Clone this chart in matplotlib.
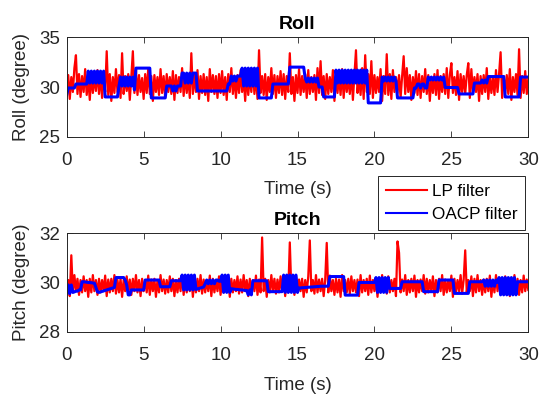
import numpy as np
import matplotlib
matplotlib.use("Agg")
import matplotlib.pyplot as plt

plt.rcParams['font.family'] = ['Liberation Sans', 'DejaVu Sans']

dt = 0.1
x_ticks = [0, 5, 10, 15, 20, 25, 30]
roll_yticks = [25, 30, 35]
pitch_yticks = [28, 30, 32]

roll_lp = [
    29.4, 31.2, 28.8, 31.0, 29.5, 31.9, 33.2, 29.3, 31.3, 29.0,
    31.1, 29.5, 31.8, 29.2, 30.9, 28.7, 31.3, 29.4, 31.0, 29.6,
    31.7, 29.3, 31.2, 28.9, 31.1, 29.5, 33.6, 29.2, 31.3, 28.6,
    31.0, 29.4, 31.8, 29.5, 31.2, 28.9, 33.4, 29.3, 31.1, 29.6,
    31.3, 28.7, 31.0, 33.6, 29.4, 31.7, 29.2, 31.2, 29.5, 30.9,
    28.8, 31.3, 29.4, 31.9, 29.3, 31.1, 28.6, 31.2, 29.5, 31.0,
    29.2, 31.8, 29.4, 31.1, 28.9, 31.3, 29.5, 31.0, 29.3, 31.6,
    28.7, 31.2, 29.4, 31.0, 29.5, 31.9, 29.1, 31.3, 29.4, 31.1,
    28.9, 33.4, 29.3, 31.2, 29.5, 31.7, 28.8, 31.1, 29.4, 31.3,
    29.2, 31.0, 28.6, 31.8, 29.5, 31.2, 29.3, 31.1, 28.9, 31.3,
    29.4, 31.6, 29.2, 31.0, 28.7, 31.3, 29.5, 31.9, 29.3, 31.1,
    28.9, 31.2, 29.4, 31.7, 29.5, 31.0, 28.6, 31.3, 29.2, 31.1,
    29.5, 31.8, 29.3, 31.2, 28.8, 33.7, 29.4, 31.1, 29.2, 31.3,
    28.7, 31.0, 29.5, 31.9, 29.3, 31.2, 28.9, 31.1, 29.4, 31.6,
    29.2, 31.3, 28.8, 31.1, 29.5, 33.4, 29.3, 31.0, 28.6, 31.2,
    29.4, 31.8, 29.2, 31.1, 29.5, 31.3, 28.9, 31.7, 29.3, 31.0,
    29.5, 31.2, 28.7, 31.9, 29.4, 32.6, 29.2, 31.1, 28.8, 31.3,
    29.3, 31.0, 29.5, 31.7, 28.6, 31.2, 29.4, 31.1, 29.2, 31.8,
    28.9, 31.3, 29.5, 31.0, 29.3, 31.6, 28.7, 31.2, 33.7, 29.4,
    31.1, 29.2, 31.9, 28.8, 33.2, 29.5, 31.3, 29.3, 32.6, 28.9,
    31.2, 29.4, 31.0, 29.5, 31.8, 28.6, 31.1, 29.3, 33.3, 29.2,
    31.3, 28.8, 31.7, 29.5, 31.0, 29.4, 31.2, 28.9, 31.1, 33.1,
    29.3, 31.9, 29.5, 31.2, 28.7, 31.0, 29.4, 31.6, 29.2, 31.3,
    28.9, 31.1, 29.5, 31.8, 29.3, 31.2, 28.6, 31.0, 29.4, 31.3,
    29.2, 31.7, 28.8, 31.1, 29.5, 31.3, 29.3, 31.9, 28.9, 31.2,
    32.4, 29.4, 31.0, 29.2, 31.6, 28.7, 31.3, 29.5, 31.1, 29.3,
    31.2, 32.4, 28.9, 31.8, 29.4, 31.0, 29.5, 31.3, 28.6, 31.1,
    29.3, 31.2, 29.5, 31.9, 28.8, 31.1, 29.4, 31.0, 29.2, 31.7,
    29.5, 31.3, 33.5, 28.9, 31.1, 29.4, 31.2, 29.3, 31.8, 28.7,
    31.0, 29.5, 31.3, 29.2, 33.8, 28.9, 31.1, 29.4, 31.6, 29.3,
    30.8,
]

roll_oacp = [
    29.2, 29.9, 29.9, 29.9, 29.9, 29.9, 30.3, 30.3, 30.3, 30.3,
    30.3, 30.3, 30.3, 30.3, 31.6, 30.4, 31.6, 30.4, 31.6, 30.4,
    31.6, 30.4, 31.6, 30.4, 31.6, 29.0, 29.0, 29.0, 29.0, 29.0,
    29.0, 29.0, 29.0, 29.0, 30.1, 31.0, 30.1, 31.0, 30.1, 31.0,
    30.1, 31.0, 30.1, 31.0, 29.7, 31.9, 31.9, 31.9, 31.9, 31.9,
    31.9, 31.9, 31.9, 31.9, 31.9, 28.9, 28.9, 28.9, 28.9, 28.9,
    28.9, 28.9, 28.9, 28.9, 28.9, 30.1, 30.1, 30.1, 30.1, 29.6,
    30.1, 29.6, 30.1, 30.1, 30.1, 31.4, 31.4, 30.4, 31.4, 30.4,
    31.4, 30.4, 31.4, 31.4, 31.4, 29.6, 29.6, 29.6, 29.6, 29.6,
    29.6, 29.6, 29.6, 29.6, 29.6, 29.6, 29.6, 29.6, 29.6, 29.6,
    29.6, 29.6, 29.6, 29.6, 29.6, 30.3, 30.3, 31.1, 30.6, 31.1,
    30.6, 31.1, 31.1, 31.1, 31.9, 30.1, 31.9, 30.1, 31.9, 30.1,
    31.9, 30.1, 31.9, 30.1, 31.9, 28.9, 28.9, 28.9, 28.9, 28.9,
    28.9, 28.9, 28.9, 28.9, 30.3, 30.3, 30.3, 30.3, 30.3, 30.3,
    30.3, 30.3, 30.3, 30.3, 30.3, 32.0, 32.0, 32.0, 32.0, 32.0,
    32.0, 32.0, 32.0, 32.0, 32.0, 30.9, 30.5, 30.9, 30.5, 30.9,
    30.5, 30.9, 30.5, 30.9, 30.0, 30.0, 30.0, 29.0, 29.0, 29.0,
    29.0, 29.0, 29.0, 29.0, 29.0, 31.7, 30.4, 31.7, 30.4, 31.7,
    30.4, 31.7, 30.4, 31.7, 30.4, 31.7, 30.4, 31.7, 30.4, 31.7,
    30.4, 31.7, 30.4, 31.7, 30.4, 31.7, 28.4, 28.4, 28.4, 28.4,
    28.4, 28.4, 28.4, 28.4, 28.4, 31.0, 30.6, 31.0, 30.6, 31.0,
    30.6, 31.0, 30.6, 31.0, 30.6, 28.9, 28.9, 28.9, 28.9, 28.9,
    28.9, 28.9, 28.9, 28.9, 28.9, 28.9, 29.9, 29.9, 30.3, 30.3,
    29.9, 30.3, 30.3, 29.9, 29.9, 31.0, 30.7, 31.0, 30.7, 31.0,
    30.7, 31.0, 30.7, 31.0, 30.7, 31.0, 29.95, 29.95, 29.95, 29.95,
    29.95, 29.95, 29.95, 29.95, 29.95, 29.3, 29.3, 29.3, 29.3, 29.3,
    29.3, 29.3, 29.3, 29.3, 29.3, 30.4, 30.4, 30.4, 30.4, 30.4,
    30.7, 30.4, 30.7, 30.4, 31.05, 31.05, 31.05, 31.05, 31.05, 31.05,
    31.05, 31.05, 31.05, 31.05, 31.05, 29.0, 29.0, 29.0, 29.0, 29.0,
    29.0, 29.0, 29.0, 29.0, 29.0, 31.0, 31.0, 31.0, 31.0, 31.0,
    31.0,
]

pitch_lp = [
    29.65, 30.1, 29.45, 31.1, 29.6, 30.3, 29.65, 30.15, 29.5, 30.1,
    29.6, 30.25, 29.65, 30.1, 29.42, 30.15, 29.6, 30.3, 29.65, 30.1,
    29.5, 30.15, 29.6, 30.1, 29.65, 30.28, 29.45, 30.12, 29.6, 30.15,
    29.65, 30.3, 29.55, 30.1, 29.6, 30.15, 29.42, 30.1, 29.65, 30.25,
    29.6, 30.12, 29.5, 30.15, 29.65, 30.3, 29.6, 30.1, 29.45, 30.15,
    29.65, 30.1, 29.6, 30.28, 29.5, 30.12, 29.65, 30.15, 29.42, 30.1,
    29.6, 30.3, 29.65, 30.12, 29.55, 30.1, 29.6, 30.25, 29.65, 30.15,
    29.45, 30.1, 29.6, 30.15, 29.65, 30.3, 29.5, 30.12, 29.6, 30.1,
    29.65, 30.25, 29.42, 30.1, 29.6, 30.15, 29.65, 30.3, 29.55, 30.12,
    29.6, 30.1, 29.65, 30.28, 29.45, 30.15, 29.6, 30.1, 29.65, 30.25,
    29.5, 30.12, 29.6, 30.3, 29.65, 30.1, 29.42, 30.15, 29.6, 30.1,
    29.65, 30.25, 29.55, 30.12, 29.6, 30.3, 29.65, 30.1, 29.45, 30.15,
    29.6, 30.1, 29.65, 30.28, 29.5, 30.12, 29.6, 31.82, 29.65, 30.15,
    29.42, 30.1, 29.6, 30.3, 29.65, 30.15, 29.55, 30.12, 29.6, 30.25,
    29.65, 30.1, 29.45, 30.15, 29.6, 31.62, 29.65, 30.1, 29.5, 30.3,
    29.6, 30.12, 29.65, 30.15, 29.42, 30.1, 29.6, 30.25, 31.7, 29.65,
    30.1, 29.55, 30.3, 29.6, 30.12, 29.65, 30.15, 29.45, 30.1, 31.6,
    29.6, 30.28, 29.65, 30.1, 29.5, 30.15, 29.6, 30.12, 29.42, 30.3,
    29.65, 30.1, 29.6, 30.15, 29.55, 30.25, 29.65, 30.1, 29.6, 30.12,
    29.45, 30.3, 29.6, 30.1, 29.65, 30.15, 29.5, 30.28, 29.6, 30.1,
    29.65, 30.12, 29.42, 30.15, 29.6, 30.3, 29.65, 30.1, 29.55, 30.25,
    29.6, 30.1, 29.65, 30.15, 29.45, 31.66, 31.2, 29.6, 30.12, 29.65,
    30.3, 29.5, 30.1, 29.6, 30.15, 29.65, 30.28, 29.42, 30.1, 29.6,
    30.12, 29.65, 30.3, 29.55, 30.15, 29.6, 30.1, 29.65, 30.25, 29.45,
    30.1, 29.6, 30.15, 29.65, 30.3, 29.5, 30.12, 29.6, 30.1, 29.65,
    30.28, 29.42, 30.15, 29.6, 30.1, 29.65, 30.3, 29.55, 30.12, 31.3,
    29.6, 30.1, 29.65, 30.25, 29.45, 30.15, 29.6, 30.3, 29.65, 30.1,
    29.5, 30.12, 29.6, 30.15, 29.65, 30.28, 29.42, 30.1, 29.6, 30.3,
    29.65, 30.15, 29.55, 30.1, 29.6, 30.25, 29.65, 30.12, 29.45, 30.1,
    29.6, 30.3, 29.65, 30.15, 29.5, 30.1, 29.6, 30.28, 29.65, 30.12,
    29.7,
]

pitch_oacp = [
    29.55, 29.9, 29.55, 29.9, 29.6, 29.62, 29.65, 29.65, 29.7, 29.7,
    30.03, 30.03, 30.02, 30.01, 30.0, 30.0, 29.99, 29.98, 29.97, 29.8,
    29.62, 29.6, 29.62, 29.64, 29.66, 29.68, 29.7, 29.72, 29.74, 29.76,
    29.78, 29.8, 30.2, 30.2, 30.2, 30.2, 30.2, 30.2, 30.1, 29.9,
    29.5, 29.5, 29.7, 29.7, 29.7, 29.7, 29.7, 29.7, 29.7, 29.7,
    29.7, 30.1, 30.1, 30.1, 30.1, 30.1, 30.1, 30.1, 30.1, 30.1,
    30.1, 29.83, 29.83, 29.83, 29.83, 29.83, 29.83, 29.83, 30.07, 30.07,
    30.07, 30.07, 30.07, 30.07, 30.07, 30.3, 29.7, 30.3, 29.7, 30.3,
    29.7, 30.3, 29.7, 30.3, 29.72, 29.74, 29.76, 29.78, 29.8, 29.82,
    29.95, 30.1, 29.95, 30.1, 29.95, 30.1, 29.95, 30.1, 30.1, 30.05,
    30.05, 30.3, 29.6, 30.3, 29.6, 30.3, 29.6, 29.75, 29.74, 29.73,
    29.72, 29.72, 29.71, 29.7, 29.7, 29.69, 29.68, 29.68, 29.5, 29.7,
    29.5, 30.07, 30.07, 30.07, 30.07, 30.07, 30.07, 30.07, 30.07, 30.07,
    30.07, 29.63, 29.63, 29.63, 29.63, 29.63, 29.63, 29.63, 29.63, 29.63,
    29.63, 30.3, 29.6, 30.3, 29.6, 30.3, 29.6, 30.3, 29.6, 30.3,
    29.6, 29.78, 29.78, 29.79, 29.79, 29.8, 29.8, 29.81, 29.81, 29.82,
    29.82, 29.83, 29.83, 29.84, 29.84, 29.85, 29.85, 29.85, 29.85, 29.85,
    29.85, 30.24, 30.24, 30.24, 30.24, 30.24, 30.24, 30.24, 30.24, 30.24,
    30.24, 29.49, 29.49, 29.49, 29.49, 29.49, 29.49, 29.49, 29.49, 29.49,
    30.0, 30.0, 30.0, 30.0, 30.0, 30.0, 30.0, 30.0, 30.0, 30.0,
    30.0, 30.2, 29.6, 30.2, 29.6, 30.2, 29.6, 30.2, 29.6, 30.2,
    29.76, 29.76, 29.76, 29.76, 29.76, 29.76, 29.76, 29.76, 30.03, 30.03,
    30.03, 30.03, 30.03, 30.03, 30.03, 30.03, 30.03, 30.03, 30.03, 30.03,
    30.03, 30.03, 29.63, 29.63, 29.63, 29.63, 29.63, 29.63, 29.63, 29.63,
    29.63, 29.63, 30.1, 30.1, 30.1, 30.1, 30.1, 30.1, 30.1, 30.1,
    30.1, 30.1, 29.56, 29.56, 29.56, 29.56, 29.56, 29.56, 29.56, 29.56,
    29.56, 29.56, 30.03, 30.03, 30.03, 30.03, 30.03, 30.03, 30.03, 30.03,
    30.03, 30.1, 29.85, 30.1, 29.85, 30.1, 29.85, 30.1, 29.85, 30.1,
    30.0, 30.2, 29.5, 30.2, 29.5, 30.2, 29.5, 30.2, 29.5, 30.2,
    29.5, 30.2, 29.5, 30.03, 30.03, 30.03, 30.03, 30.03, 30.03, 30.03,
    30.03,
]

W, H = 539, 394
fig = plt.figure(figsize=(W / 100, H / 100), dpi=100)

def px_axes(x0, y0, x1, y1):
    return fig.add_axes([x0 / W, 1 - y1 / H, (x1 - x0) / W, (y1 - y0) / H])

ax1 = px_axes(66.7, 37.3, 528.3, 136.7)
ax2 = px_axes(66.7, 233.0, 528.3, 332.0)

ink = (0.15, 0.15, 0.15)
fs = 13.5

def style(ax, ylim, yticks, ylabel, title):
    ax.set_xlim(0, 30)
    ax.set_ylim(*ylim)
    ax.set_xticks(x_ticks)
    ax.set_yticks(yticks)
    ax.tick_params(direction='in', top=True, right=True, length=4, width=0.6,
                   colors=ink, labelsize=fs, pad=5)
    ax.tick_params(axis='x', pad=11)
    for s in ax.spines.values():
        s.set_color(ink)
        s.set_linewidth(0.7)
    ax.set_xlabel('Time (s)', fontsize=fs, color=ink, labelpad=9)
    ax.set_ylabel(ylabel, fontsize=fs, color=ink, labelpad=6)
    ax.set_title(title, fontsize=14, fontweight='bold', pad=6)

t = np.arange(len(roll_lp)) * dt
l1, = ax1.plot(t, roll_lp, color='#ff0000', lw=1.6)
l2, = ax1.plot(t, roll_oacp, color='#0000ff', lw=2.2)
style(ax1, (25, 35), roll_yticks, 'Roll (degree)', 'Roll')

t2 = np.arange(len(pitch_lp)) * dt
ax2.plot(t2, pitch_lp, color='#ff0000', lw=1.6)
ax2.plot(t2, pitch_oacp, color='#0000ff', lw=2.2)
style(ax2, (28, 32), pitch_yticks, 'Pitch (degree)', 'Pitch')

leg = fig.legend([l1, l2], ['LP filter', 'OACP filter'], loc='upper left',
                 bbox_to_anchor=(378.3 / W, 1 - 176 / H), fontsize=12.3,
                 fancybox=False, framealpha=1, edgecolor=ink,
                 handlelength=2.4, handletextpad=0.3, borderpad=0.45,
                 labelspacing=0.5, borderaxespad=0)
leg.get_frame().set_linewidth(0.7)
for h in leg.legend_handles:
    h.set_linewidth(1.5)

fig.savefig('out.png', dpi=100)
